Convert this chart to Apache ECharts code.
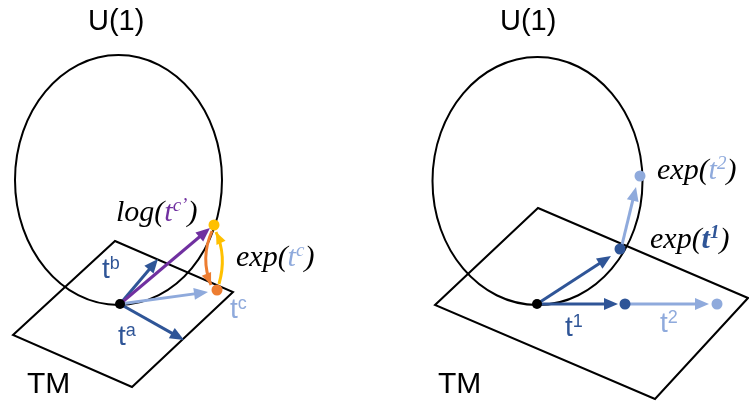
<!DOCTYPE html>
<html><head><meta charset="utf-8">
<script src="https://cdn.jsdelivr.net/npm/echarts@6/dist/echarts.min.js"></script>
<style>html,body{margin:0;padding:0;background:#fff}#c{width:749px;height:403px}</style>
</head><body><div id="c"></div>
<script>
// ---- diagram data (in diagram coordinate units) ----
const titleText = ['U(1)', 'U(1)'];
const titlePos = [[88, 32], [500, 32]];
const manifoldText = ['TM', 'TM'];
const manifoldPos = [[27, 395], [438, 395]];
const circleCenter = [[118.5, 180], [537.5, 181]];
const circleRadius = [[103.5, 125], [105, 124]];
const planeCorners = [
  [115, 241, 233, 292, 132, 387, 13, 335],
  [538, 208, 748, 298, 655, 399, 435, 305]
];
const vectorNames = ['ta', 'tb', 'tc', 'logtc', 't1', 't2', 'expt1', 'expt2'];
const vectorFrom = [[120,304],[120,304],[120,304],[120,304],[537,304],[625,304],[537,304],[621,249]];
const vectorTo = [[184,340],[158,259],[208,292],[210,228],[618,304],[709,304],[611,256],[636,187]];
const mapNames = ['log', 'exp'];
const mapFrom = [[212,231],[219,284]];
const mapTo = [[211,285],[216,232]];
const mapBend = [[200,258],[227,256]];
const pointNames = ['e', 'expLeft', 'tcLeft', 'e', 't1', 't2', 'expt1', 'expt2'];
const pointPos = [[120,304],[214,225],[217,290],[537,304],[625,304],[717,304],[620,249],[640,176]];
const vectorLabels = [['t','a'],['t','b'],['t','c'],['t','1'],['t','2']];
const vectorLabelPos = [[118,347],[102,280],[230,320],[565,338],[660,334]];
const mapLabels = [['log(','t','c’',')'],['exp(','t','c',')'],['exp(','t','2',')'],['exp(','t','1',')']];
const mapLabelPos = [[116,223],[236,268],[657,181],[650,250]];

// ---- styles ----
const DARK = '#2F5597', LIGHT = '#8FAADC', PURPLE = '#7030A0', ORANGE = '#ED7D31', YELLOW = '#FFC000';
const vectorColor = {ta: DARK, tb: DARK, tc: LIGHT, logtc: PURPLE, t1: DARK, t2: LIGHT, expt1: DARK, expt2: LIGHT};
const mapColor = {log: ORANGE, exp: YELLOW};
const pointColor = {e: '#000', expLeft: YELLOW, tcLeft: ORANGE, t1: DARK, t2: LIGHT, expt1: DARK, expt2: LIGHT};
const vectorLabelColor = [DARK, DARK, LIGHT, DARK, LIGHT];
const mapLabelColor = [PURPLE, LIGHT, LIGHT, DARK];
const mapLabelBold = [false, false, false, true];
const SANS = '"Liberation Sans", Arial, sans-serif';
const SERIF = '"Liberation Serif", "Times New Roman", serif';
const SERIF_SIZE = 30, SERIF_SUP = 19;

function headShape(tip, ux, uy, color, L, W) {
  const nx = -uy, ny = ux;
  const bx = tip[0] - ux * L, by = tip[1] - uy * L;
  return {type: 'polygon', shape: {points: [[tip[0], tip[1]], [bx + nx * W / 2, by + ny * W / 2], [bx - nx * W / 2, by - ny * W / 2]]}, style: {fill: color}};
}

const chart = echarts.init(document.getElementById('c'), null, {renderer: 'canvas'});
chart.setOption({
  backgroundColor: '#fff',
  animation: false,
  grid: {left: 0, right: 0, top: 0, bottom: 0},
  xAxis: {type: 'value', min: 0, max: 749, show: false},
  yAxis: {type: 'value', min: 0, max: 403, inverse: true, show: false},
  series: [
    { // U(1) circles
      type: 'custom', coordinateSystem: 'cartesian2d', silent: true,
      data: circleCenter.map((c, i) => [c[0], c[1], circleRadius[i][0], circleRadius[i][1]]),
      renderItem: (p, api) => {
        const c = api.coord([api.value(0), api.value(1)]);
        const s = api.size([api.value(2), api.value(3)]);
        return {type: 'ellipse', shape: {cx: c[0], cy: c[1], rx: Math.abs(s[0]), ry: Math.abs(s[1])},
          style: {fill: null, stroke: '#000', lineWidth: 2}};
      }
    },
    { // tangent planes
      type: 'custom', coordinateSystem: 'cartesian2d', silent: true,
      data: planeCorners,
      renderItem: (p, api) => {
        const pts = [];
        for (let k = 0; k < 4; k++) pts.push(api.coord([api.value(2 * k), api.value(2 * k + 1)]));
        return {type: 'polygon', shape: {points: pts}, style: {fill: null, stroke: '#000', lineWidth: 2, lineJoin: 'miter'}};
      }
    },
    { // straight vectors
      type: 'custom', coordinateSystem: 'cartesian2d', silent: true,
      data: vectorFrom.map((f, i) => [f[0], f[1], vectorTo[i][0], vectorTo[i][1]]),
      renderItem: (p, api) => {
        const p0 = api.coord([api.value(0), api.value(1)]);
        const p1 = api.coord([api.value(2), api.value(3)]);
        const color = vectorColor[vectorNames[p.dataIndex]];
        const dx = p1[0] - p0[0], dy = p1[1] - p0[1], len = Math.hypot(dx, dy);
        const ux = dx / len, uy = dy / len, L = 14;
        return {type: 'group', children: [
          {type: 'line', shape: {x1: p0[0], y1: p0[1], x2: p1[0] - ux * (L - 2), y2: p1[1] - uy * (L - 2)}, style: {stroke: color, lineWidth: 3}},
          headShape(p1, ux, uy, color, L, 12)
        ]};
      }
    },
    { // curved exp / log maps
      type: 'custom', coordinateSystem: 'cartesian2d', silent: true,
      data: mapFrom.map((f, i) => [f[0], f[1], mapTo[i][0], mapTo[i][1], mapBend[i][0], mapBend[i][1]]),
      renderItem: (p, api) => {
        const p0 = api.coord([api.value(0), api.value(1)]);
        const p1 = api.coord([api.value(2), api.value(3)]);
        const cp = api.coord([api.value(4), api.value(5)]);
        const color = mapColor[mapNames[p.dataIndex]];
        const dx = p1[0] - cp[0], dy = p1[1] - cp[1], len = Math.hypot(dx, dy);
        return {type: 'group', children: [
          {type: 'bezierCurve', shape: {x1: p0[0], y1: p0[1], x2: p1[0], y2: p1[1], cpx1: cp[0], cpy1: cp[1]}, style: {fill: null, stroke: color, lineWidth: 3}},
          headShape(p1, dx / len, dy / len, color, 12, 10)
        ]};
      }
    },
    { // points
      type: 'custom', coordinateSystem: 'cartesian2d', silent: true,
      data: pointPos,
      renderItem: (p, api) => {
        const c = api.coord([api.value(0), api.value(1)]);
        const name = pointNames[p.dataIndex];
        return {type: 'circle', shape: {cx: c[0], cy: c[1], r: name === 'e' ? 5 : 5.5}, style: {fill: pointColor[name]}};
      }
    },
    { // titles and TM
      type: 'custom', coordinateSystem: 'cartesian2d', silent: true,
      data: titlePos.concat(manifoldPos),
      renderItem: (p, api) => {
        const c = api.coord([api.value(0), api.value(1)]);
        const isTitle = p.dataIndex < titleText.length;
        const txt = isTitle ? titleText[p.dataIndex] : manifoldText[p.dataIndex - titleText.length];
        const fs = isTitle ? 29 : 30;
        return {type: 'text', x: c[0], y: c[1] - 0.347 * fs,
          style: {text: txt, fill: '#000', font: fs + 'px ' + SANS, align: 'left', verticalAlign: 'middle'}};
      }
    },
    { // vector labels
      type: 'custom', coordinateSystem: 'cartesian2d', silent: true,
      data: vectorLabelPos,
      renderItem: (p, api) => {
        const c = api.coord([api.value(0), api.value(1)]);
        const lab = vectorLabels[p.dataIndex];
        const col = vectorLabelColor[p.dataIndex];
        return {type: 'text', x: c[0], y: c[1] - 0.347 * 28,
          style: {text: '{b|' + lab[0] + '}{s|' + lab[1] + '}', align: 'left', verticalAlign: 'middle',
            rich: {
              b: {fontSize: 28, fontFamily: SANS, fill: col, lineHeight: 30, verticalAlign: 'middle'},
              s: {fontSize: 18, fontFamily: SANS, fill: col, lineHeight: 22, verticalAlign: 'top'}
            }}};
      }
    },
    { // map labels
      type: 'custom', coordinateSystem: 'cartesian2d', silent: true,
      data: mapLabelPos,
      renderItem: (p, api) => {
        const c = api.coord([api.value(0), api.value(1)]);
        const lab = mapLabels[p.dataIndex];
        const col = mapLabelColor[p.dataIndex];
        const fw = mapLabelBold[p.dataIndex] ? 'bold' : 'normal';
        return {type: 'text', x: c[0], y: c[1] - 0.338 * SERIF_SIZE,
          style: {text: '{i|' + lab[0] + '}{t|' + lab[1] + '}{s|' + lab[2] + '}{i|' + lab[3] + '}', align: 'left', verticalAlign: 'middle',
            rich: {
              i: {fontSize: SERIF_SIZE, fontFamily: SERIF, fontStyle: 'italic', fill: '#000', lineHeight: 32, verticalAlign: 'middle'},
              t: {fontSize: SERIF_SIZE, fontFamily: SERIF, fontStyle: 'italic', fontWeight: fw, fill: col, lineHeight: 32, verticalAlign: 'middle'},
              s: {fontSize: SERIF_SUP, fontFamily: SERIF, fontStyle: 'italic', fontWeight: fw, fill: col, lineHeight: 24, verticalAlign: 'top'}
            }}};
      }
    }
  ]
});
</script></body></html>
